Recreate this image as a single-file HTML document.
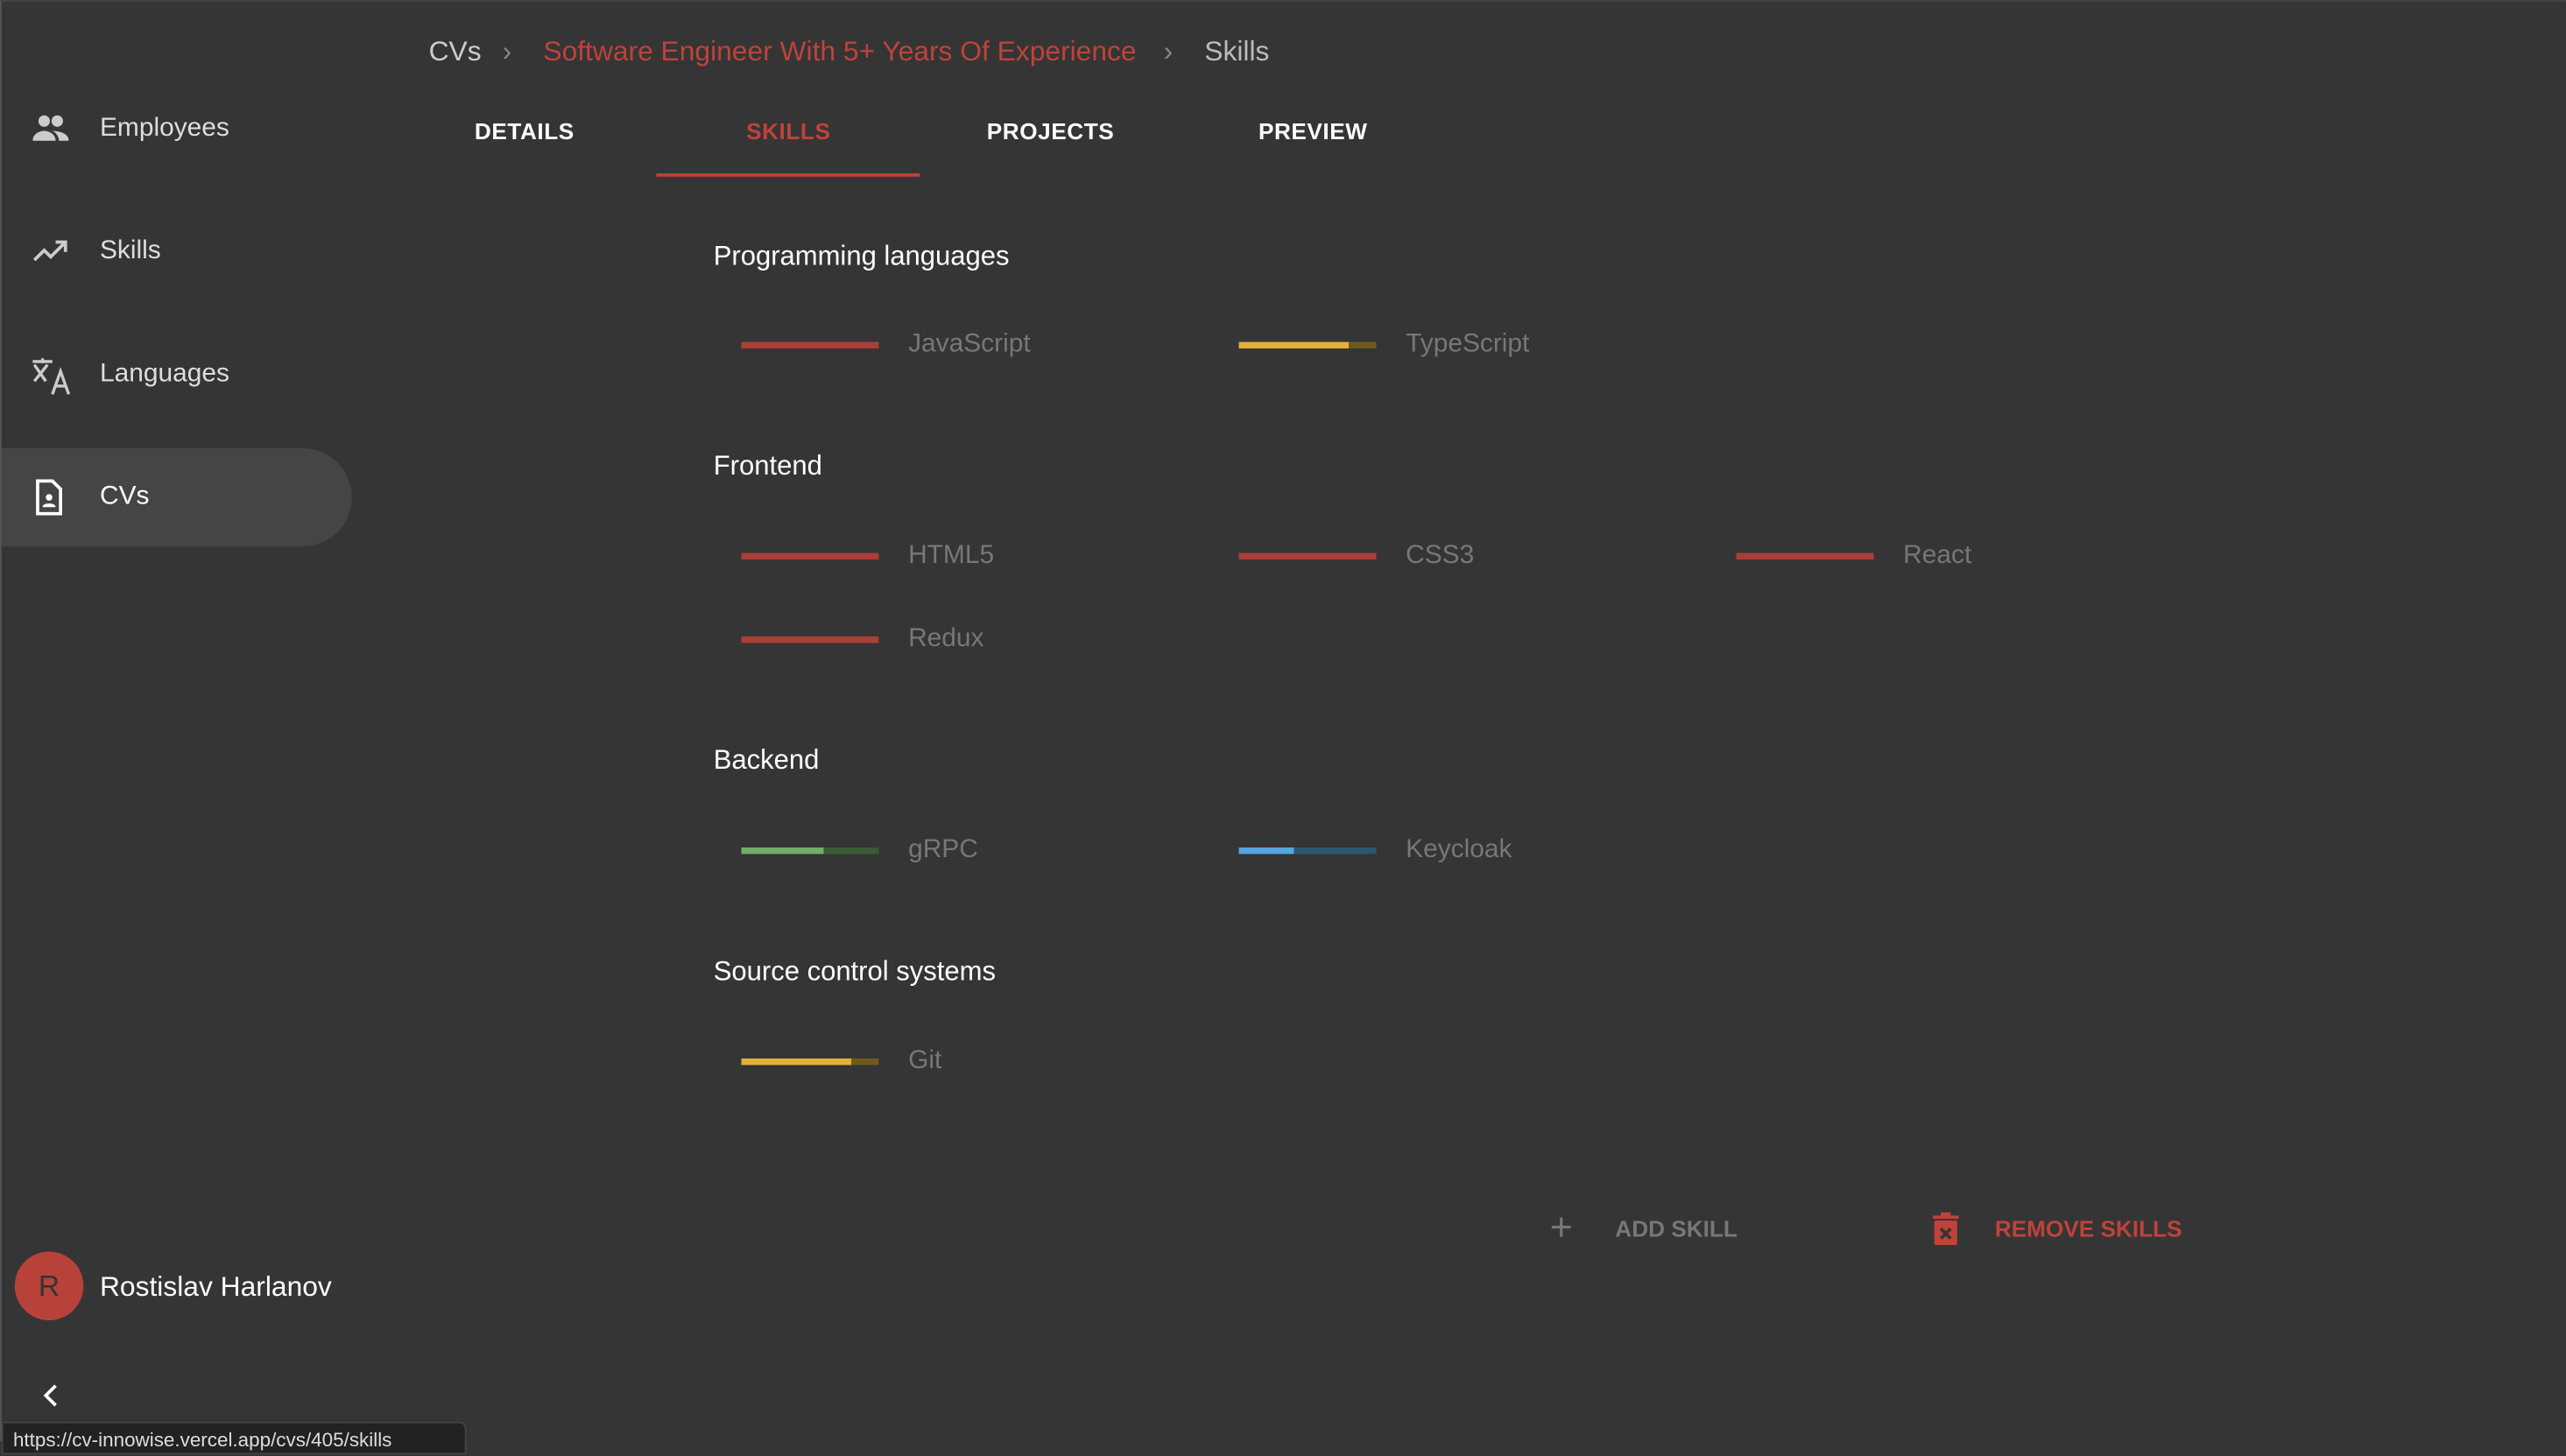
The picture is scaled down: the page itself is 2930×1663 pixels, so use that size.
<!DOCTYPE html>
<html><head><meta charset="utf-8"><style>
html,body{margin:0;padding:0;background:#353535;overflow:hidden;width:2930px;height:1646px}
#w{position:absolute;left:0;top:0;width:1568px;height:881px;transform:scale(1.8686);transform-origin:0 0;font-family:"Liberation Sans",sans-serif;background:#353535;border-left:1px solid #555;border-top:1px solid #444;box-sizing:border-box}
.a{position:absolute;white-space:nowrap}
.nav{font-size:16px;color:#ddd}
.tab{font-size:14px;font-weight:bold;color:#fff;letter-spacing:.3px}
.h{font-size:16.6px;color:#fff}
.bar{position:absolute;width:84px;height:4px}
.lb{font-size:16px;color:#777}
</style></head><body><div id="w">
<div class="a" style="left:261px;top:21px;font-size:17px;color:#ccc">CVs</div>
<div class="a" style="left:306px;top:21px;font-size:17px;color:#888">›</div>
<div class="a" style="left:331px;top:21px;font-size:17px;color:#c0423a">Software Engineer With 5+ Years Of Experience</div>
<div class="a" style="left:710px;top:21px;font-size:17px;color:#888">›</div>
<div class="a" style="left:735px;top:21px;font-size:17px;color:#bbb">Skills</div>

<svg class="a" style="left:18px;top:68px" width="24" height="20" viewBox="0 0 24 20"><circle cx="8" cy="5" r="3.5" fill="#ccc"/><circle cx="16" cy="5" r="3.5" fill="#ccc"/><path d="M1 17c0-4 4-6 7-6s7 2 7 6z M13 11c3 0 10 1 10 6h-6c0-3-2-5-4-6z" fill="#ccc"/></svg>
<div class="a nav" style="left:60px;top:69px">Employees</div>
<svg class="a" style="left:19px;top:144px" width="22" height="16" viewBox="0 0 22 16"><path d="M1 14l6-6 4 4 8-8M14 3h6v6" stroke="#ccc" stroke-width="2" fill="none"/></svg>
<div class="a nav" style="left:60px;top:144px">Skills</div>
<svg class="a" style="left:18px;top:217px" width="24" height="24" viewBox="0 0 24 24"><path d="M1 3h12M7 1v3M2 5l7 10M10 5l-8 10M13 23l5-14 5 14M15 18h6" stroke="#ccc" stroke-width="1.8" fill="none"/></svg>
<div class="a nav" style="left:60px;top:219px">Languages</div>
<div class="a" style="left:0;top:273px;width:214px;height:60px;background:#454545;border-radius:0 30px 30px 0"></div>
<svg class="a" style="left:20px;top:292px" width="18" height="22" viewBox="0 0 18 22"><path d="M2 1h9l5 5v15H2z" stroke="#fff" stroke-width="2" fill="none"/><circle cx="9" cy="11" r="2" fill="#fff"/><path d="M5 17c0-3 8-3 8 0z" fill="#fff"/></svg>
<div class="a nav" style="left:60px;top:294px;color:#fff">CVs</div>

<div class="a tab" style="left:289px;top:71px">DETAILS</div>
<div class="a tab" style="left:455px;top:71px;color:#c0423a">SKILLS</div>
<div class="a" style="left:400px;top:105px;width:161px;height:2px;background:#c0423a"></div>
<div class="a tab" style="left:602px;top:71px">PROJECTS</div>
<div class="a tab" style="left:768px;top:71px">PREVIEW</div>

<div class="a h" style="left:435px;top:146px">Programming languages</div>
<div class="bar" style="left:452px;top:208px;background:#ad3e37"></div><div class="a lb" style="left:554px;top:201px">JavaScript</div>
<div class="bar" style="left:756px;top:208px;background:linear-gradient(90deg,#e2b03b 80%,#6e5a1e 80%)"></div><div class="a lb" style="left:858px;top:201px">TypeScript</div>

<div class="a h" style="left:435px;top:274px">Frontend</div>
<div class="bar" style="left:452px;top:337px;background:#ad3e37"></div><div class="a lb" style="left:554px;top:330px">HTML5</div>
<div class="bar" style="left:756px;top:337px;background:#ad3e37"></div><div class="a lb" style="left:858px;top:330px">CSS3</div>
<div class="bar" style="left:1060px;top:337px;background:#ad3e37"></div><div class="a lb" style="left:1162px;top:330px">React</div>
<div class="bar" style="left:452px;top:388px;background:#ad3e37"></div><div class="a lb" style="left:554px;top:381px">Redux</div>

<div class="a h" style="left:435px;top:454px">Backend</div>
<div class="bar" style="left:452px;top:517px;background:linear-gradient(90deg,#72ad6b 60%,#3c5a37 60%)"></div><div class="a lb" style="left:554px;top:510px">gRPC</div>
<div class="bar" style="left:756px;top:517px;background:linear-gradient(90deg,#55a5de 40%,#2e5572 40%)"></div><div class="a lb" style="left:858px;top:510px">Keycloak</div>

<div class="a h" style="left:435px;top:583px">Source control systems</div>
<div class="bar" style="left:452px;top:646px;background:linear-gradient(90deg,#e2b03b 80%,#6e5a1e 80%)"></div><div class="a lb" style="left:554px;top:639px">Git</div>

<div class="a" style="left:946px;top:738px;font-size:24px;color:#777;line-height:24px">+</div>
<div class="a" style="left:986px;top:742px;font-size:14px;font-weight:bold;color:#777">ADD SKILL</div>
<svg class="a" style="left:1180px;top:740px" width="16" height="20" viewBox="0 0 16 20"><rect x="0" y="2" width="16" height="2" fill="#c0423a"/><rect x="5" y="0" width="6" height="2" fill="#c0423a"/><rect x="1" y="5" width="14" height="15" rx="1" fill="#c0423a"/><path d="M5 10l6 6M11 10l-6 6" stroke="#353535" stroke-width="2"/></svg>
<div class="a" style="left:1218px;top:742px;font-size:14px;font-weight:bold;color:#c0423a">REMOVE SKILLS</div>

<div class="a" style="left:8px;top:764px;width:42px;height:42px;border-radius:50%;background:#b8423a;color:#333;font-size:18px;text-align:center;line-height:42px">R</div>
<div class="a" style="left:60px;top:776px;font-size:17px;color:#fff">Rostislav Harlanov</div>
<svg class="a" style="left:24px;top:844px" width="12" height="16" viewBox="0 0 12 16"><path d="M9 2L3 8l6 6" stroke="#fff" stroke-width="2" fill="none"/></svg>
<div class="a" style="left:0;top:868px;width:284px;height:20px;background:#222;border-radius:0 4px 0 0;border:1px solid #444;box-sizing:border-box;font-size:12px;color:#ddd;padding-left:6px;line-height:20px">https://cv-innowise.vercel.app/cvs/405/skills</div>
</div></body></html>
